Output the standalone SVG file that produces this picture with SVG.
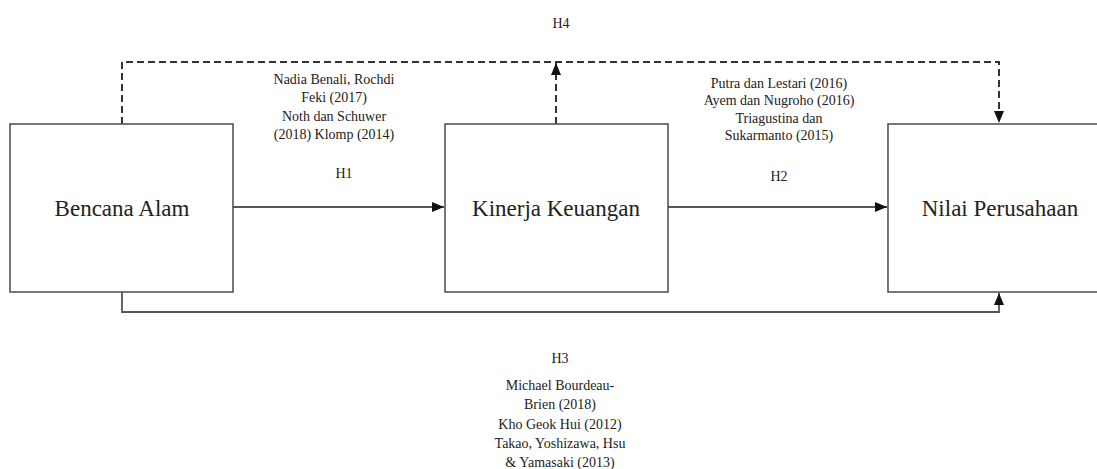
<svg xmlns="http://www.w3.org/2000/svg" width="1097" height="469" viewBox="0 0 1097 469">
<style>
.box{fill:#fff;stroke:#555;stroke-width:1.6}
.main{font-size:23px;fill:#222;text-anchor:middle;dominant-baseline:central}
.small{font-size:14px;fill:#222;text-anchor:middle;dominant-baseline:central}
.line{fill:none;stroke:#555;stroke-width:1.8}
.dash{fill:none;stroke:#333;stroke-width:2;stroke-dasharray:7,4}
</style>
<defs>
<marker id="ah" markerWidth="12" markerHeight="10" refX="12" refY="5" orient="auto" markerUnits="userSpaceOnUse">
<path d="M0,0 L12,5 L0,10 Z" fill="#111"/>
</marker>
</defs>
<rect width="1097" height="469" fill="#fff"/>
<g id="connectors">
<path class="line" d="M233,207 H444" marker-end="url(#ah)"/>
<path class="line" d="M668,207 H887" marker-end="url(#ah)"/>
<path class="line" d="M122,292 V312 H999 V293" marker-end="url(#ah)"/>
<path class="dash" d="M122,124 V62 H999 V123" marker-end="url(#ah)"/>
<path class="dash" d="M556,124 V63" marker-end="url(#ah)"/>
</g>
<g font-family="'Liberation Serif', 'DejaVu Serif', 'Times New Roman', serif">
<g id="node-bencana">
<rect class="box" x="10" y="124" width="223" height="168"/>
<text class="main" x="122" y="208">Bencana Alam</text>
</g>
<g id="node-kinerja">
<rect class="box" x="445" y="124" width="223" height="168"/>
<text class="main" x="556" y="208">Kinerja Keuangan</text>
</g>
<g id="node-nilai">
<rect class="box" x="888" y="124" width="230" height="168"/>
<text class="main" x="1000" y="208">Nilai Perusahaan</text>
</g>
<g id="labels">
<text class="small" x="561" y="23">H4</text>
<text class="small" x="334" y="79">Nadia Benali, Rochdi</text>
<text class="small" x="334" y="97">Feki (2017)</text>
<text class="small" x="334" y="116">Noth dan Schuwer</text>
<text class="small" x="334" y="134">(2018) Klomp (2014)</text>
<text class="small" x="344" y="173">H1</text>
<text class="small" x="779" y="83">Putra dan Lestari (2016)</text>
<text class="small" x="779" y="100">Ayem dan Nugroho (2016)</text>
<text class="small" x="779" y="118">Triagustina dan</text>
<text class="small" x="779" y="135">Sukarmanto (2015)</text>
<text class="small" x="779" y="176">H2</text>
<text class="small" x="560" y="358">H3</text>
<text class="small" x="560" y="385">Michael Bourdeau-</text>
<text class="small" x="560" y="404">Brien (2018)</text>
<text class="small" x="560" y="424">Kho Geok Hui (2012)</text>
<text class="small" x="560" y="443">Takao, Yoshizawa, Hsu</text>
<text class="small" x="560" y="462">&amp; Yamasaki (2013)</text>
</g>
</g>
</svg>
